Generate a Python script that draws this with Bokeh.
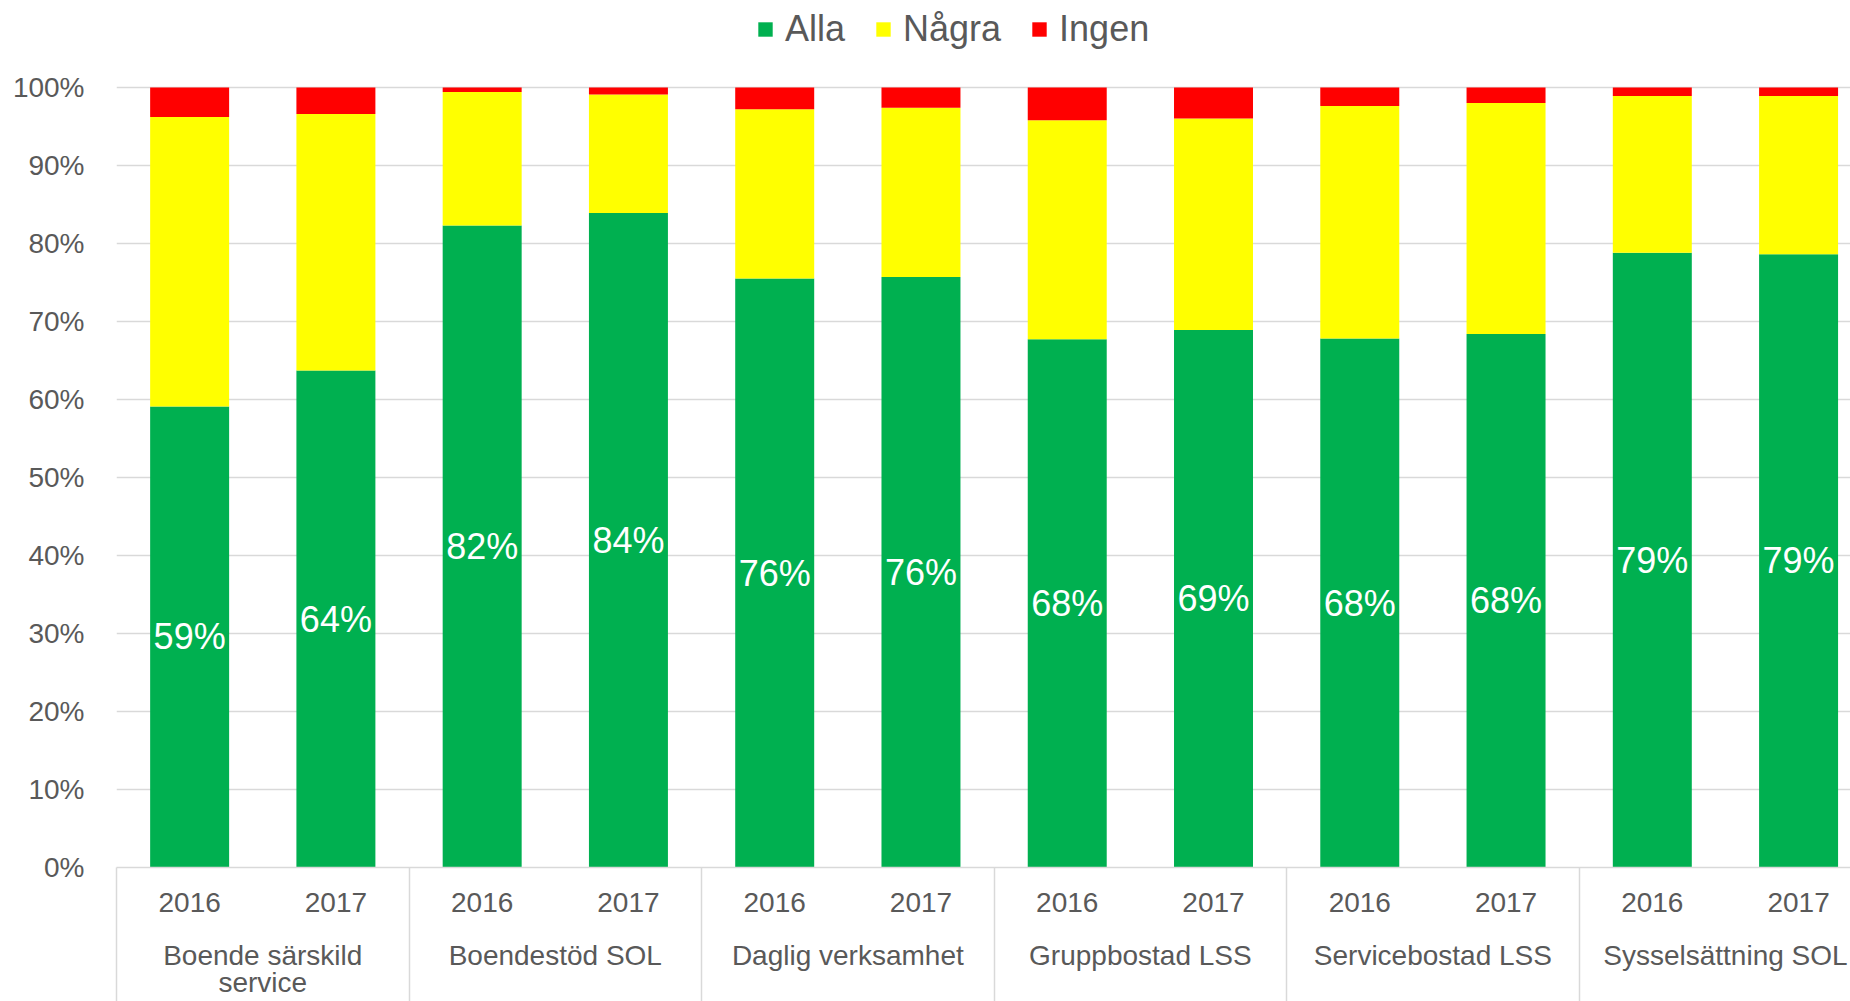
from bokeh.plotting import figure
from bokeh.models import Range1d, FixedTicker, LinearAxis, Legend, LegendItem, ColumnDataSource
from bokeh.core.properties import value
from bokeh.embed import file_html
from bokeh.resources import INLINE

groups = ["Boende särskild\nservice", "Boendestöd SOL", "Daglig verksamhet",
          "Gruppbostad LSS", "Servicebostad LSS", "Sysselsättning SOL"]
years = ["2016", "2017"]
alla = [59.1, 63.7, 82.3, 83.9, 75.5, 75.7, 67.7, 68.9, 67.8, 68.4, 78.8, 78.6]
nagra = [37.1, 32.9, 17.1, 15.2, 21.7, 21.7, 28.1, 27.1, 29.8, 29.6, 20.1, 20.3]
ingen = [3.8, 3.4, 0.6, 0.9, 2.8, 2.6, 4.2, 4.0, 2.4, 2.0, 1.1, 1.1]
series = ["Alla", "Några", "Ingen"]
colors = ["#00B050", "#FFFF00", "#FF0000"]
y_ticks = list(range(0, 101, 10))

FONT = "Liberation Sans"
GRAY = "#595959"
LIGHT = "#d9d9d9"

n = len(alla)
xs = [i + 0.5 for i in range(n)]
src = ColumnDataSource(dict(
    x=xs, alla=alla, nagra=nagra, ingen=ingen,
    lab_y=[v / 2 for v in alla],
    lab=[f"{int(v + 0.5)}%" for v in alla],
))

# frame spans the whole top; headroom above 100% holds the legend
FRAME_H = 868
TOP_GAP = 87
y_end = 100 * FRAME_H / (FRAME_H - TOP_GAP)

p = figure(width=1850, height=1001, output_backend="svg", toolbar_location=None,
           x_range=Range1d(0, 11.855), y_range=Range1d(0, y_end),
           min_border_left=116, min_border_right=0, min_border_top=0, min_border_bottom=133)
p.outline_line_color = None
p.xgrid.visible = False

rs = p.vbar_stack(["alla", "nagra", "ingen"], x="x", width=0.54, color=colors,
                  line_color=None, source=src)

p.text(x="x", y="lab_y", text="lab", source=src, text_align="center", text_baseline="middle",
       text_color="white", text_font=value(FONT), text_font_size="36px")

# y axis
yt = FixedTicker(ticks=y_ticks)
p.yaxis.ticker = yt
p.yaxis.major_label_overrides = {t: f"{t}%" for t in y_ticks}
p.yaxis.axis_line_color = None
p.yaxis.major_tick_line_color = None
p.yaxis.minor_tick_line_color = None
p.yaxis.major_label_standoff = 26
p.yaxis.major_label_text_font = FONT
p.yaxis.major_label_text_font_size = "28px"
p.yaxis.major_label_text_color = GRAY
p.ygrid.ticker = yt
p.ygrid.grid_line_color = LIGHT
p.ygrid.grid_line_width = 1.5

# year axis (minor ticks act as group separators)
SEP = 140
xa = p.xaxis[0]
xa.ticker = FixedTicker(ticks=xs, minor_ticks=[2 * k for k in range(len(groups) + 1)])
xa.major_label_overrides = {x: years[i % 2] for i, x in enumerate(xs)}
xa.axis_line_color = LIGHT
xa.axis_line_width = 1.5
xa.major_tick_line_color = None
xa.major_tick_out = 0
xa.major_tick_in = 0
xa.minor_tick_line_color = LIGHT
xa.minor_tick_line_width = 1.5
xa.minor_tick_out = SEP
xa.minor_tick_in = 0
xa.major_label_standoff = 25 - SEP
xa.major_label_text_font = FONT
xa.major_label_text_font_size = "28px"
xa.major_label_text_color = GRAY

# group axis
gt = [2 * k + 1 for k in range(len(groups))]
ga = LinearAxis(ticker=FixedTicker(ticks=gt))
ga.major_label_overrides = {t: groups[i] for i, t in enumerate(gt)}
ga.axis_line_color = None
ga.major_tick_line_color = None
ga.minor_tick_line_color = None
ga.major_tick_out = 0
ga.major_tick_in = 0
ga.major_label_standoff = 25
ga.major_label_text_font = FONT
ga.major_label_text_font_size = "28px"
ga.major_label_text_line_height = 0.9
ga.major_label_text_color = GRAY
p.add_layout(ga, "below")

legend = Legend(items=[LegendItem(label=s, renderers=[r]) for s, r in zip(series, rs)],
                orientation="horizontal", location=(640, FRAME_H - 51),
                border_line_color=None, background_fill_alpha=0,
                padding=0, margin=0, spacing=29, label_standoff=11,
                glyph_width=18, glyph_height=18,
                label_text_font=FONT, label_text_font_size="36px", label_text_color=GRAY)
p.add_layout(legend, "center")

open("out.html", "w").write(file_html(p, INLINE))
